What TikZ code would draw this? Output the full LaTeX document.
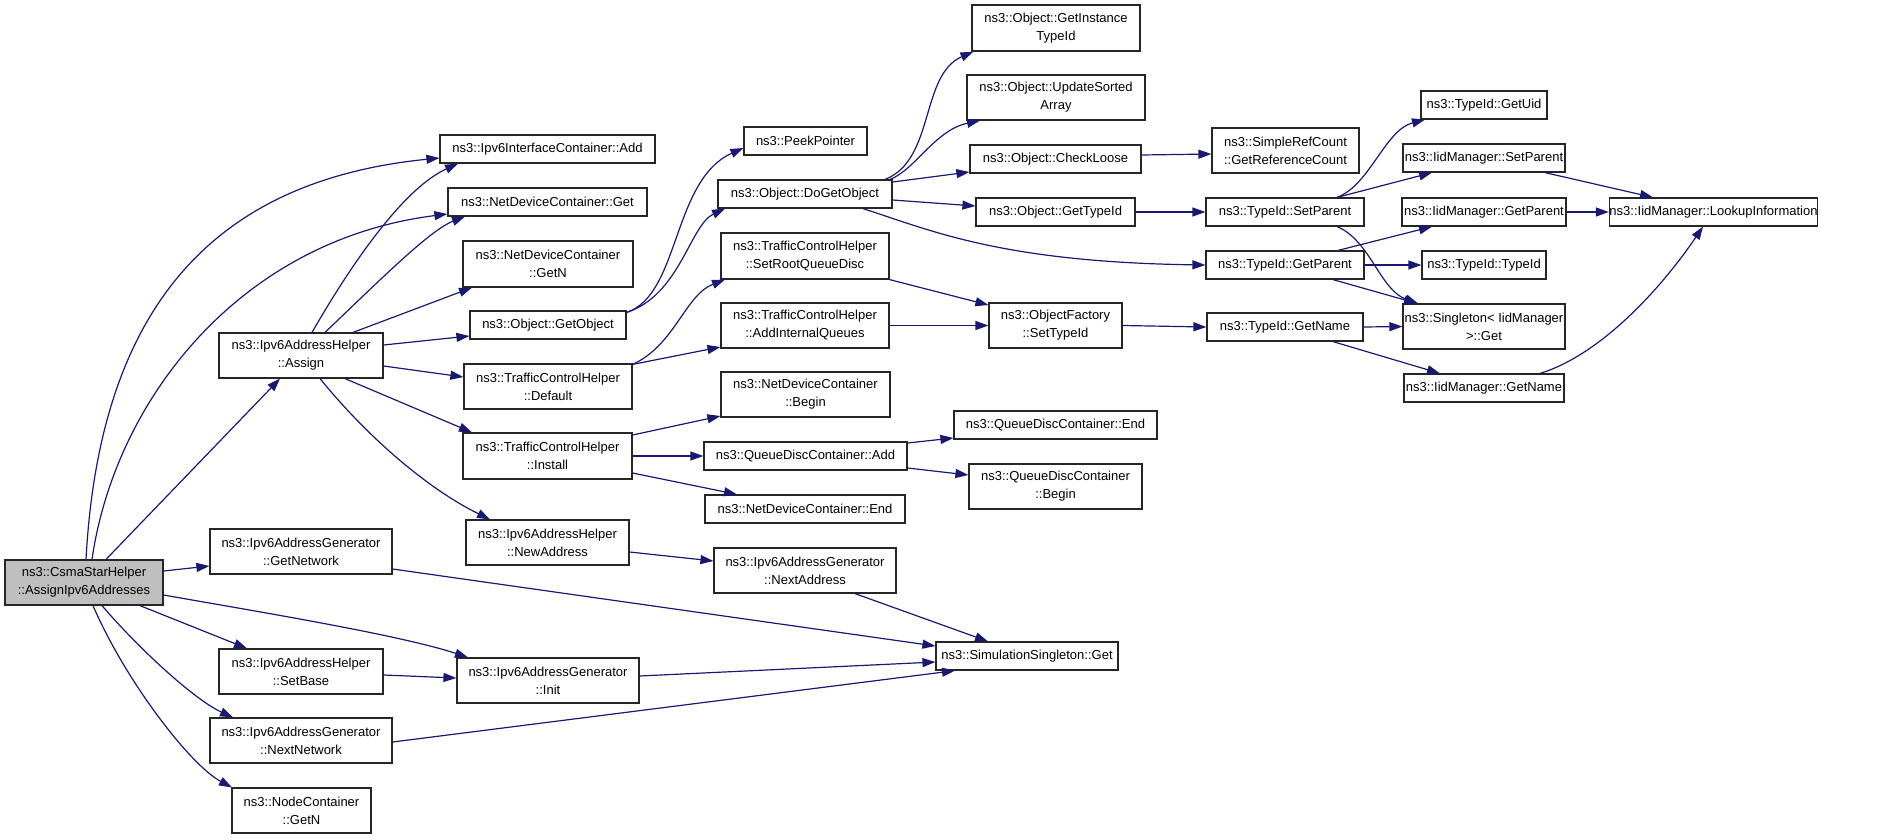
\documentclass[tikz,border=0pt]{standalone}
\usepackage{fontspec}
\setmainfont{Liberation Sans}
\usetikzlibrary{arrows.meta}
\definecolor{edgec}{RGB}{25,25,112}
\definecolor{graybox}{RGB}{191,191,191}
\begin{document}
\begin{tikzpicture}[x=1pt,y=-1pt,
  box/.style={draw=black!85, line width=1.2pt, fill=white, inner sep=0pt, align=center,
              font=\fontsize{13pt}{18pt}\selectfont},
  edge/.style={draw=edgec, line width=1.2pt, -{Triangle[length=13pt,width=9pt]}}]
\useasboundingbox (0,0) rectangle (1883,839);

% column 0
\node[box, fill=graybox, minimum width=158pt, minimum height=45pt] (csma) at (84,582.5) {ns3::CsmaStarHelper\\::AssignIpv6Addresses};
% column 1
\node[box, minimum width=164pt, minimum height=45pt] (assign) at (301,355.5) {ns3::Ipv6AddressHelper\\::Assign};
\node[box, minimum width=182pt, minimum height=45pt] (getnet) at (301,551.5) {ns3::Ipv6AddressGenerator\\::GetNetwork};
\node[box, minimum width=164pt, minimum height=45pt] (setbase) at (301,671.5) {ns3::Ipv6AddressHelper\\::SetBase};
\node[box, minimum width=182pt, minimum height=45pt] (nextnet) at (301,740.5) {ns3::Ipv6AddressGenerator\\::NextNetwork};
\node[box, minimum width=139pt, minimum height=45pt] (nodegetn) at (301.5,810.5) {ns3::NodeContainer\\::GetN};
% column 2
\node[box, minimum width=215pt, minimum height=28pt] (ifadd) at (547.5,149) {ns3::Ipv6InterfaceContainer::Add};
\node[box, minimum width=199pt, minimum height=28pt] (ndget) at (547.5,202) {ns3::NetDeviceContainer::Get};
\node[box, minimum width=170pt, minimum height=46pt] (ndgetn) at (548,264) {ns3::NetDeviceContainer\\::GetN};
\node[box, minimum width=156pt, minimum height=28pt] (getobj) at (548,325) {ns3::Object::GetObject};
\node[box, minimum width=168pt, minimum height=45pt] (default) at (548,386.5) {ns3::TrafficControlHelper\\::Default};
\node[box, minimum width=169pt, minimum height=46pt] (install) at (547.5,456) {ns3::TrafficControlHelper\\::Install};
\node[box, minimum width=163pt, minimum height=45pt] (newaddr) at (547.5,542.5) {ns3::Ipv6AddressHelper\\::NewAddress};
\node[box, minimum width=182pt, minimum height=45pt] (init) at (548,680.5) {ns3::Ipv6AddressGenerator\\::Init};
% column 3
\node[box, minimum width=123pt, minimum height=28pt] (peek) at (805.5,141) {ns3::PeekPointer};
\node[box, minimum width=174pt, minimum height=28pt] (dogetobj) at (805,194) {ns3::Object::DoGetObject};
\node[box, minimum width=168pt, minimum height=46pt] (setroot) at (805,256) {ns3::TrafficControlHelper\\::SetRootQueueDisc};
\node[box, minimum width=168pt, minimum height=45pt] (addint) at (805,325.5) {ns3::TrafficControlHelper\\::AddInternalQueues};
\node[box, minimum width=169pt, minimum height=45pt] (ndbegin) at (805.5,394.5) {ns3::NetDeviceContainer\\::Begin};
\node[box, minimum width=203pt, minimum height=28pt] (qdcadd) at (805.5,456) {ns3::QueueDiscContainer::Add};
\node[box, minimum width=200pt, minimum height=28pt] (ndend) at (805,509) {ns3::NetDeviceContainer::End};
\node[box, minimum width=182pt, minimum height=45pt] (nextaddr) at (805,570.5) {ns3::Ipv6AddressGenerator\\::NextAddress};
% column 4
\node[box, minimum width=182pt, minimum height=28pt] (simget) at (1027,656) {ns3::SimulationSingleton::Get};
\node[box, minimum width=168pt, minimum height=46pt] (instid) at (1056,28) {ns3::Object::GetInstance\\TypeId};
\node[box, minimum width=178pt, minimum height=45pt] (usa) at (1056,97.5) {ns3::Object::UpdateSorted\\Array};
\node[box, minimum width=171pt, minimum height=28pt] (check) at (1055.5,159) {ns3::Object::CheckLoose};
\node[box, minimum width=159pt, minimum height=28pt] (objtid) at (1055.5,212) {ns3::Object::GetTypeId};
\node[box, minimum width=133pt, minimum height=45pt] (ofset) at (1055.5,325.5) {ns3::ObjectFactory\\::SetTypeId};
\node[box, minimum width=203pt, minimum height=28pt] (qdcend) at (1055.5,425) {ns3::QueueDiscContainer::End};
\node[box, minimum width=173pt, minimum height=45pt] (qdcbegin) at (1055.5,486.5) {ns3::QueueDiscContainer\\::Begin};
% column 5
\node[box, minimum width=147pt, minimum height=45pt] (src) at (1285.5,150.5) {ns3::SimpleRefCount\\::GetReferenceCount};
\node[box, minimum width=158pt, minimum height=28pt] (tsetp) at (1285,212) {ns3::TypeId::SetParent};
\node[box, minimum width=158pt, minimum height=28pt] (tgetp) at (1285,265) {ns3::TypeId::GetParent};
\node[box, minimum width=156pt, minimum height=28pt] (tgetn) at (1285,327) {ns3::TypeId::GetName};
% column 6
\node[box, minimum width=126pt, minimum height=28pt] (uid) at (1484,105) {ns3::TypeId::GetUid};
\node[box, minimum width=162pt, minimum height=28pt] (isetp) at (1484,158) {ns3::IidManager::SetParent};
\node[box, minimum width=164pt, minimum height=28pt] (igetp) at (1484,212) {ns3::IidManager::GetParent};
\node[box, minimum width=124pt, minimum height=28pt] (ttid) at (1484,265) {ns3::TypeId::TypeId};
\node[box, minimum width=162pt, minimum height=45pt] (single) at (1484,326.5) {ns3::Singleton< IidManager\\>::Get};
\node[box, minimum width=160pt, minimum height=28pt] (igetn) at (1484,388) {ns3::IidManager::GetName};
% column 7
\node[box, minimum width=207pt, minimum height=28pt] (lookup) at (1713.5,212) {ns3::IidManager::LookupInformation};

% edges from csma
\draw[edge] ([xshift=2pt]csma.north) .. controls (100,300) and (220,180) .. ([yshift=-9pt]ifadd.west);
\draw[edge] ([xshift=8pt]csma.north) .. controls (115,400) and (240,240) .. ([yshift=-12pt]ndget.west);
\draw[edge] ([xshift=22pt]csma.north) -- ([xshift=-21pt]assign.south);
\draw[edge] ([yshift=11.5pt]csma.east) -- ([yshift=-14.5pt]getnet.west);
\draw[edge] ([yshift=-12.5pt]csma.east) .. controls (260,612) and (400,635) .. ([xshift=-80pt]init.north);
\draw[edge] ([xshift=56pt]csma.south) -- ([xshift=-54pt]setbase.north);
\draw[edge] ([xshift=18pt]csma.south) .. controls (140,650) and (195,700) .. ([xshift=-68pt]nextnet.north);
\draw[edge] ([xshift=9pt]csma.south) .. controls (125,680) and (190,765) .. ([xshift=-69.5pt]nodegetn.north);

% edges from assign
\draw[edge] ([xshift=11pt]assign.north) .. controls (345,275) and (400,190) .. ([xshift=-89.5pt]ifadd.south);
\draw[edge] ([xshift=24pt]assign.north) .. controls (380,280) and (430,230) .. ([xshift=-82.5pt]ndget.south);
\draw[edge] ([xshift=52pt]assign.north) -- ([xshift=-76pt]ndgetn.south);
\draw[edge] ([yshift=10.5pt]assign.east) -- ([yshift=-11pt]getobj.west);
\draw[edge] ([yshift=-10.5pt]assign.east) -- ([yshift=9.5pt]default.west);
\draw[edge] ([xshift=44pt]assign.south) -- ([xshift=-75.5pt]install.north);
\draw[edge] ([xshift=19pt]assign.south) .. controls (370,440) and (430,490) .. ([xshift=-57.5pt]newaddr.north);

% column 2 outgoing
\draw[edge] ([yshift=-2pt]getobj.north east) .. controls (680,295) and (672,180) .. ([yshift=-7pt]peek.west);
\draw[edge] ([yshift=-2pt]getobj.north east) .. controls (680,295) and (690,225) .. ([xshift=-80pt]dogetobj.south);
\draw[edge] ([yshift=-1pt]default.north east) .. controls (675,345) and (685,295) .. ([xshift=-80pt]setroot.south);
\draw[edge] ([yshift=-1pt]default.north east) -- ([yshift=-21.5pt]addint.west);
\draw[edge] ([yshift=21pt]install.east) -- ([yshift=-21.5pt]ndbegin.west);
\draw[edge] (install.east) -- (qdcadd.west);
\draw[edge] ([yshift=-17pt]install.east) -- ([xshift=-68pt]ndend.north);
\draw[edge] ([yshift=-9.5pt]newaddr.east) -- ([yshift=9.5pt]nextaddr.west);

% into SimulationSingleton::Get
\draw[edge] ([yshift=-17.5pt]getnet.east) -- ([yshift=10pt]simget.west);
\draw[edge] ([xshift=50pt]nextaddr.south) -- ([xshift=-39pt]simget.north);
\draw[edge] ([yshift=4.5pt]init.east) -- ([yshift=-6pt]simget.west);
\draw[edge] ([yshift=-1.5pt]nextnet.east) -- ([xshift=-72pt]simget.south);
\draw[edge] ([yshift=-3.5pt]setbase.east) -- ([yshift=2.5pt]init.west);

% column 3 outgoing
\draw[edge] ([xshift=80pt]dogetobj.north) .. controls (935,160) and (920,75) .. ([xshift=2pt]instid.south west);
\draw[edge] ([xshift=85pt]dogetobj.north) .. controls (915,170) and (935,130) .. ([xshift=-76pt]usa.south);
\draw[edge] ([yshift=12pt]dogetobj.east) -- ([yshift=-13pt]check.west);
\draw[edge] ([yshift=-6pt]dogetobj.east) -- ([yshift=6pt]objtid.west);
\draw[edge] ([xshift=58pt]dogetobj.south) .. controls (930,230) and (1000,262) .. (tgetp.west);
\draw[edge] (setroot.south east) -- ([yshift=20.5pt]ofset.west);
\draw[edge] (addint.east) -- (ofset.west);
\draw[edge] ([yshift=13pt]qdcadd.east) -- ([yshift=-13pt]qdcend.west);
\draw[edge] ([yshift=-12pt]qdcadd.east) -- ([yshift=11.5pt]qdcbegin.west);

% column 4 outgoing
\draw[edge] ([yshift=4pt]check.east) -- ([yshift=-3.5pt]src.west);
\draw[edge] (objtid.east) -- (tsetp.west);
\draw[edge] (ofset.east) -- (tgetn.west);

% column 5 outgoing
\draw[edge] ([xshift=52pt]tsetp.north) .. controls (1370,185) and (1385,130) .. ([xshift=-59pt]uid.south);
\draw[edge] ([xshift=52pt]tsetp.north) -- ([xshift=-52pt]isetp.south);
\draw[edge] ([xshift=52pt]tsetp.south) .. controls (1370,240) and (1380,290) .. ([xshift=-66pt]single.north);
\draw[edge] ([xshift=53pt]tgetp.north) -- ([xshift=-52pt]igetp.south);
\draw[edge] (tgetp.east) -- (ttid.west);
\draw[edge] ([xshift=48pt]tgetp.south) -- ([xshift=-67pt]single.north);
\draw[edge] (tgetn.east) -- (single.west);
\draw[edge] ([xshift=48pt]tgetn.south) -- ([xshift=-44pt]igetn.north);

% column 6 outgoing
\draw[edge] ([xshift=61pt]isetp.south) -- ([xshift=-60.5pt]lookup.north);
\draw[edge] (igetp.east) -- (lookup.west);
\draw[edge] ([xshift=56pt]igetn.north) .. controls (1600,355) and (1660,290) .. ([xshift=-10.5pt]lookup.south);
\end{tikzpicture}
\end{document}
